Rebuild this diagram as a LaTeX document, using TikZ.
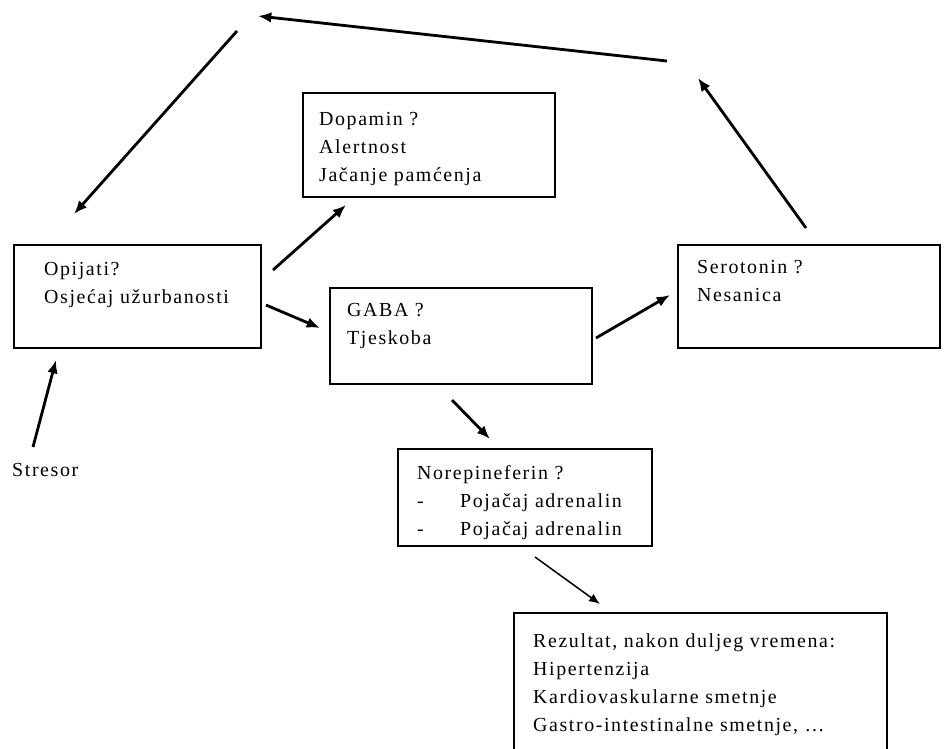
\documentclass[tikz,border=0pt]{standalone}
\usepackage{fontspec}
\setmainfont{Liberation Serif}[LetterSpace=8]
\usetikzlibrary{fit,arrows.meta}

\tikzset{
	frame/.style={draw, line width=1pt, inner sep=0pt},
	txt/.style={anchor=north west, align=left, inner sep=0pt, font=\fontsize{17}{24}\selectfont},
	arr/.style={-{Latex[length=0.4cm,width=0.32cm]}, line width=2.4pt},
	thinarr/.style={-{Latex[length=0.33cm,width=0.27cm]}, line width=1.3pt},
}

\begin{document}
\begin{tikzpicture}[x=0.03cm, y=-0.03cm]
		\useasboundingbox (0,0) rectangle (944,748);

		% boxes
		\node[frame, fit={(14,245) (261,348)}] (opijati) {};
		\node[frame, fit={(303,93) (555,197)}] (dopamin) {};
		\node[frame, fit={(330,288) (592,384)}] (gaba) {};
		\node[frame, fit={(678,245) (940,348)}] (serotonin) {};
		\node[frame, fit={(398,449) (652,546)}] (norepin) {};
		\node[frame, fit={(514,613) (887,760)}] (rezultat) {};

		\node[txt] (opijatitxt) at (44,262) {Opijati?\\Osjećaj užurbanosti};
		\node[txt] (dopamintxt) at (319,112) {Dopamin ?\\Alertnost\\Jačanje pamćenja};
		\node[txt] (gabatxt) at (347,303) {GABA ?\\Tjeskoba};
		\node[txt] (serotonintxt) at (697,260) {Serotonin ?\\Nesanica};
		\node[txt] (norepintxt) at (417,465) {Norepineferin ?\\\makebox[1.29cm][l]{-}Pojačaj adrenalin\\\makebox[1.29cm][l]{-}Pojačaj adrenalin};
		\node[txt] (rezultattxt) at (533,633) {Rezultat, nakon duljeg vremena:\\Hipertenzija\\Kardiovaskularne smetnje\\Gastro-intestinalne smetnje, \dots};
		\node[txt] (stresor) at (12,463) {Stresor};

		% arrow ends
		\coordinate (seroup) at (806,228);
		\coordinate (cornerR) at (698,78);
		\coordinate (topR) at (667,61);
		\coordinate (topL) at (258,16);
		\coordinate (cornerL) at (237,31);
		\coordinate (opiup) at (74,214);
		\coordinate (opidop) at (273,270);
		\coordinate (dopin) at (346,205);
		\coordinate (opigaba) at (266,305);
		\coordinate (gabain) at (320,328);
		\coordinate (gabasero) at (596,338);
		\coordinate (seroin) at (670,295);
		\coordinate (gabanor) at (452,400);
		\coordinate (norin) at (490,439);
		\coordinate (norrez) at (535,557);
		\coordinate (rezin) at (600,604);
		\coordinate (stresorup) at (33,447);
		\coordinate (opiin) at (56,360);

		\draw[arr] (seroup) -- (cornerR);
		\draw[arr] (topR) -- (topL);
		\draw[arr] (cornerL) -- (opiup);
		\draw[arr] (opidop) -- (dopin);
		\draw[arr] (opigaba) -- (gabain);
		\draw[arr] (gabasero) -- (seroin);
		\draw[arr] (gabanor) -- (norin);
		\draw[thinarr] (norrez) -- (rezin);
		\draw[arr] (stresorup) -- (opiin);
	\end{tikzpicture}
\end{document}
